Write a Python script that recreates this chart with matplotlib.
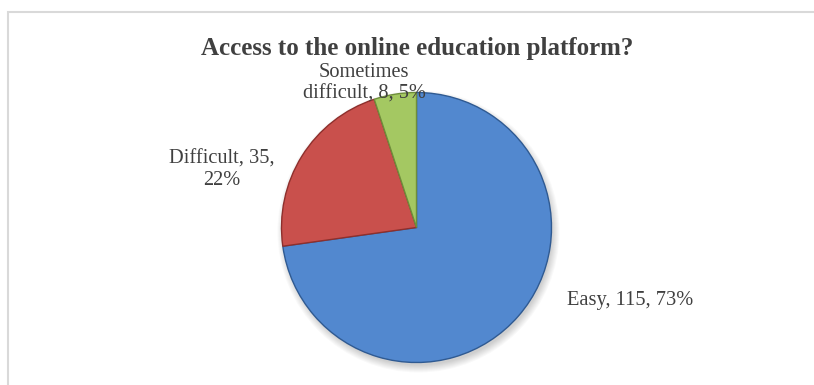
import matplotlib.pyplot as plt
from matplotlib.patches import Rectangle, Circle

categories = ['Easy', 'Difficult', 'Sometimes\ndifficult']
counts = [115, 35, 8]
colors = ['#5288CF', '#C9504C', '#A4C862']
edge_colors = ['#2F5A92', '#8E2F2C', '#6E8E3A']

title = 'Access to the online education platform?'

W, H = 814, 385
cx, cy, r = 416.5, H - 227.5, 135

# label offsets from the pie centre, in pixels, and the break before the percent
label_offsets = [(213.5, -72.5), (-194.5, 57.5), (-52.5, 144.5)]
pct_breaks = [' ', '\n', ' ']

plt.rcParams['font.family'] = ['Liberation Serif', 'DejaVu Serif']

fig = plt.figure(figsize=(W / 100, H / 100), dpi=100)
ax = fig.add_axes([0, 0, 1, 1])

# soft drop shadow under the pie
for k in range(8):
    ax.add_patch(Circle((cx + 2, cy - 4), r + 6 - k, color='#000000',
                        alpha=0.025, lw=0, zorder=0))

wedges, _ = ax.pie(counts, startangle=90, counterclock=False,
                   center=(cx, cy), radius=r, colors=colors,
                   wedgeprops=dict(linewidth=1.0))
for w, ec in zip(wedges, edge_colors):
    w.set_edgecolor(ec)
    w.set_zorder(2)

total = sum(counts)
for name, n, (dx, dy), sep in zip(categories, counts, label_offsets, pct_breaks):
    pct = round(100 * n / total)
    ax.text(cx + dx, cy + dy, f'{name}, {n},{sep}{pct}%', ha='center', va='center',
            multialignment='center', fontsize=14.7, color='#404040',
            linespacing=1.15, zorder=5)

ax.text(417, H - 48, title, ha='center', va='center', fontsize=18,
        fontweight='bold', color='#404040', zorder=5)

# chart area border
ax.add_patch(Rectangle((8, -10), W + 20, H - 12 + 10, fill=False,
                       edgecolor='#D9D9D9', linewidth=1.5, zorder=1))

ax.set_xlim(0, W)
ax.set_ylim(0, H)
ax.set_aspect('equal')
ax.axis('off')

fig.savefig('out.png', dpi=100)
